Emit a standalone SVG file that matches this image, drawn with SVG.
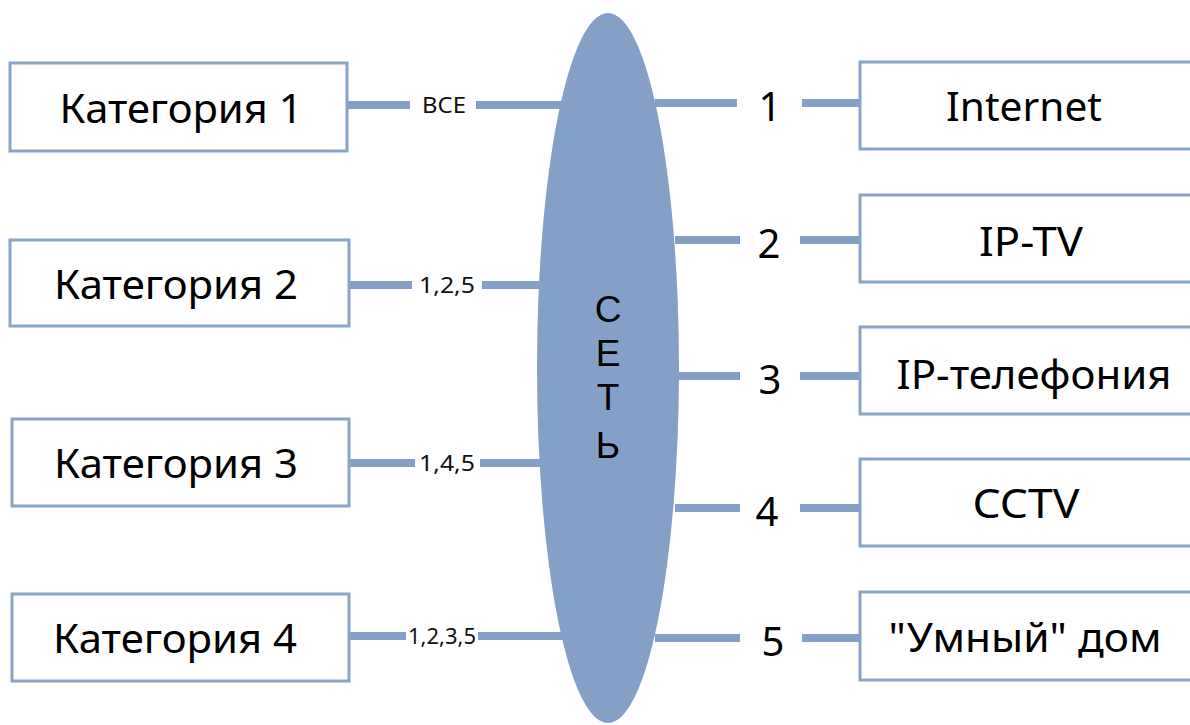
<svg xmlns="http://www.w3.org/2000/svg" width="1190" height="725" viewBox="0 0 1190 725">
<style>
.box{fill:#fff;stroke:#8aa4c8;stroke-width:3}
.ln{stroke:#85a0c7;stroke-width:8;fill:none}
.t{font-family:"Noto Sans","Open Sans",sans-serif;font-size:40px;fill:#000;text-anchor:middle}
.s{font-family:"Noto Sans","Open Sans",sans-serif;font-size:21px;fill:#111;text-anchor:middle}
.v{font-family:"Liberation Sans",Arial,sans-serif;font-size:37px;fill:#000;text-anchor:middle}
</style>
<rect width="1190" height="725" fill="#fff"/>
<g id="connectors">
<path class="ln" d="M347 105H410M476 105H565"/>
<path class="ln" d="M349 285H412M482 285H545"/>
<path class="ln" d="M349 463H415M480 463H545"/>
<path class="ln" d="M349 636H406M478 636H565"/>
<path class="ln" d="M655 103H737M802 103H860"/>
<path class="ln" d="M675 240H740M800 240H860"/>
<path class="ln" d="M675 376H740M800 376H860"/>
<path class="ln" d="M675 508H740M800 508H860"/>
<path class="ln" d="M655 638H740M802 638H860"/>
<text class="s" x="444" y="113" textLength="44" lengthAdjust="spacingAndGlyphs">ВСЕ</text>
<text class="s" x="447" y="293" textLength="56" lengthAdjust="spacingAndGlyphs">1,2,5</text>
<text class="s" x="447" y="471" textLength="56" lengthAdjust="spacingAndGlyphs">1,4,5</text>
<text class="s" x="442" y="644" textLength="68" lengthAdjust="spacingAndGlyphs">1,2,3,5</text>
<text class="t" x="770" y="121">1</text>
<text class="t" x="769" y="258">2</text>
<text class="t" x="770" y="394">3</text>
<text class="t" x="767" y="526">4</text>
<text class="t" x="773" y="656">5</text>
</g>
<g id="net">
<ellipse cx="608" cy="368" rx="71" ry="355" fill="#85a0c7"/>
<text class="v" x="608" y="322">С</text>
<text class="v" x="608" y="366">Е</text>
<text class="v" x="608" y="410">Т</text>
<text class="v" x="608" y="458">Ь</text>
</g>
<g id="cat1"><rect class="box" x="10" y="63" width="337" height="88"/><text class="t" x="181" y="123" textLength="243" lengthAdjust="spacingAndGlyphs">Категория 1</text></g>
<g id="cat2"><rect class="box" x="10" y="240" width="339" height="86"/><text class="t" x="176" y="299" textLength="244" lengthAdjust="spacingAndGlyphs">Категория 2</text></g>
<g id="cat3"><rect class="box" x="12" y="419" width="337" height="87"/><text class="t" x="176" y="478" textLength="244" lengthAdjust="spacingAndGlyphs">Категория 3</text></g>
<g id="cat4"><rect class="box" x="12" y="594" width="337" height="87"/><text class="t" x="175" y="653" textLength="244" lengthAdjust="spacingAndGlyphs">Категория 4</text></g>
<g id="internet"><rect class="box" x="860" y="62" width="340" height="87"/><text class="t" x="1024" y="121" textLength="156" lengthAdjust="spacingAndGlyphs">Internet</text></g>
<g id="iptv"><rect class="box" x="860" y="195" width="340" height="87"/><text class="t" x="1031" y="256" textLength="104" lengthAdjust="spacingAndGlyphs">IP-TV</text></g>
<g id="ipphone"><rect class="box" x="860" y="327" width="340" height="87"/><text class="t" x="1034" y="389" textLength="275" lengthAdjust="spacingAndGlyphs">IP-телефония</text></g>
<g id="cctv"><rect class="box" x="860" y="459" width="340" height="87"/><text class="t" x="1026" y="518" textLength="107" lengthAdjust="spacingAndGlyphs">CCTV</text></g>
<g id="smart"><rect class="box" x="860" y="592" width="340" height="88"/><text class="t" x="1025" y="652" textLength="273" lengthAdjust="spacingAndGlyphs">"Умный" дом</text></g>
</svg>
